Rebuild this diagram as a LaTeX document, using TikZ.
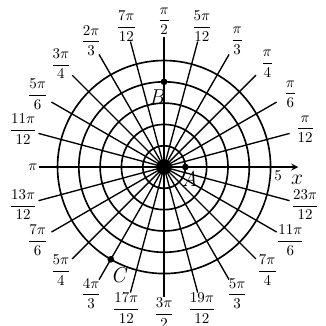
\documentclass[tikz,border=0pt]{standalone}
\usepackage{amsmath}
\usepackage{tikz}

\begin{document}
\begin{tikzpicture}[
    x=0.5cm, y=0.5cm,
    grid/.style={line width=1.1pt},
    ray/.style={line width=0.9pt},
    angle/.style={inner sep=1pt, font=\normalsize},
    pt/.style={circle, fill, inner sep=0pt, minimum size=4.5pt},
    ptlabel/.style={font=\Large\itshape, inner sep=1pt},
    arrow/.style={->, >=stealth, line width=1.1pt}
  ]
    \useasboundingbox (-7.7,-7.46) rectangle (7.6,7.84);

    % Pole
    \coordinate (O) at (0,0);
    \fill (O) circle (0.36);

    % Circles r = 1,...,5
    \foreach \r in {1,...,5}
      \draw[grid] (O) circle (\r);

    % Rays every pi/12 with their angle labels
    \foreach \k/\num/\den in {1/\pi/12, 2/\pi/6, 3/\pi/4, 4/\pi/3, 5/5\pi/12,
        6/\pi/2, 7/7\pi/12, 8/2\pi/3, 9/3\pi/4, 10/5\pi/6, 11/11\pi/12,
        13/13\pi/12, 14/7\pi/6, 15/5\pi/4, 16/4\pi/3, 17/17\pi/12, 18/3\pi/2,
        19/19\pi/12, 20/5\pi/3, 21/7\pi/4, 22/11\pi/6, 23/23\pi/12} {
      \coordinate (e\k) at ({\k*15}:6.1);
      \draw[ray] (O) -- (e\k);
      \node[angle] (lab\k) at ({\k*15}:6.85) {$\dfrac{\num}{\den}$};
    }

    % Polar axis
    \node[angle] (pi) at (180:6.15) {$\pi$};
    \coordinate (xend) at (6.3,0);
    \draw[arrow] (pi) -- (xend);
    \node[font=\normalsize] (five) at (5.35,-0.4) {$5$};
    \node[font=\Large] (xlab) at (6.25,-0.62) {$x$};

    % Points A, B, C
    \node[pt] (A) at (0:1) {};
    \node[pt] (B) at (90:4) {};
    \node[pt] (C) at (240:5) {};
    \node[ptlabel] (Alab) at (1.2,-0.55) {A};
    \node[ptlabel] (Blab) at (-0.35,3.3) {B};
    \node[ptlabel] (Clab) at (-2.15,-5.05) {C};

  \end{tikzpicture}
\end{document}
